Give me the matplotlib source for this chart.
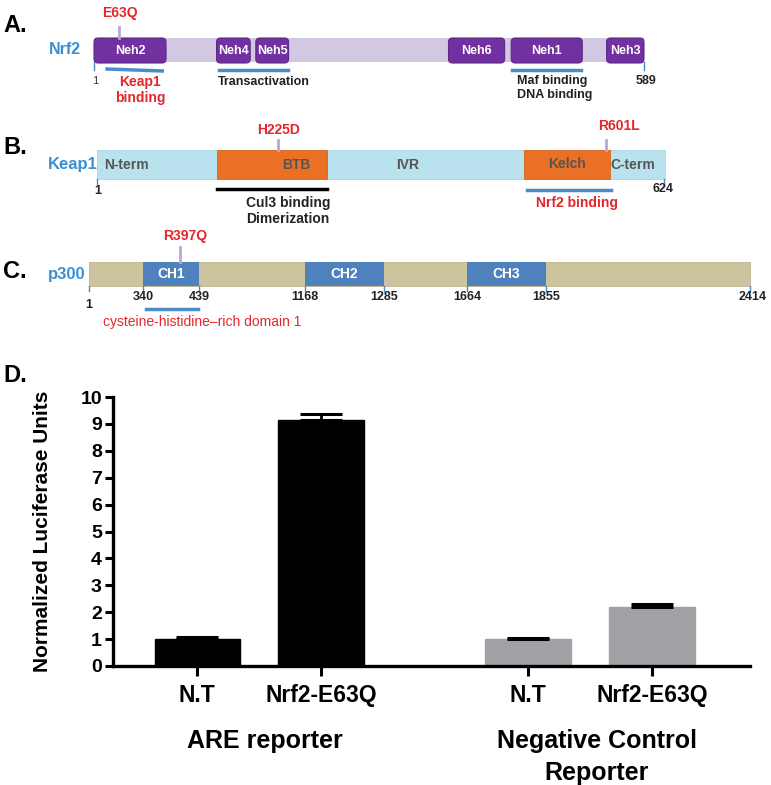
import numpy as np
import matplotlib
matplotlib.use("Agg")
import matplotlib.pyplot as plt
from matplotlib.patches import Rectangle, FancyBboxPatch

plt.rcParams['font.family'] = ['Liberation Sans', 'DejaVu Sans']

# ---------------- data ----------------
# Nrf2 (1-589), domain spans in residues (schematic)
nrf2_len = 589
nrf2_domains = ["Neh2", "Neh4", "Neh5", "Neh6", "Neh1", "Neh3"]
nrf2_starts = [1, 132, 174, 380, 447, 549]
nrf2_ends = [78, 168, 209, 440, 523, 589]
nrf2_mut = ("E63Q", 28)

# Keap1 (1-624)
keap1_len = 624
keap1_domains = ["BTB", "Kelch"]
keap1_starts = [133, 469]
keap1_ends = [253, 564]
keap1_regions = ["N-term", "IVR", "C-term"]
keap1_region_pos = [33, 342, 589]
keap1_muts = [("H225D", 200), ("R601L", 559)]

# p300 (1-2414)
p300_len = 2414
p300_domains = ["CH1", "CH2", "CH3"]
p300_starts = [340, 1168, 1664]
p300_ends = [439, 1285, 1855]
p300_mut = ("R397Q", 397)

# Luciferase assay
conditions = ["N.T", "Nrf2-E63Q", "N.T", "Nrf2-E63Q"]
groups = ["ARE reporter", "Negative Control\nReporter"]
values = [1.0, 9.15, 1.0, 2.2]
errors = [0.08, 0.2, 0.04, 0.1]
bar_colors = ["black", "black", "#a2a2a6", "#a2a2a6"]

# ---------------- figure ----------------
W, H = 771, 785
fig = plt.figure(figsize=(W / 100, H / 100), dpi=100)
ax0 = fig.add_axes([0, 0, 1, 1])
ax0.set_xlim(0, W)
ax0.set_ylim(H, 0)
ax0.axis("off")

RED = "#e4262c"
BLUE_LBL = "#3a8fd4"
LINE_BLUE = "#4a8cc8"
MARK = "#b9a6d4"


def lin(px0, px1, n):
    return lambda r: np.interp(r, [1, n], [px0, px1])


def panel_letter(y, s):
    ax0.text(3, y, s, fontsize=17, fontweight="bold", va="center", ha="left")


# ---- A. Nrf2 ----
panel_letter(26, "A.")
xa = lin(94, 644, nrf2_len)
ax0.add_patch(Rectangle((xa(1), 38), xa(nrf2_len) - xa(1), 24, fc="#d3c8e2", ec="none"))
for name, s, e in zip(nrf2_domains, nrf2_starts, nrf2_ends):
    ax0.add_patch(FancyBboxPatch((xa(s), 38), xa(e) - xa(s), 25,
                                 boxstyle="round,pad=0,rounding_size=4",
                                 fc="#7131a0", ec="#5e2a86", lw=0.8))
    ax0.text((xa(s) + xa(e)) / 2, 50.5, name, color="white", fontsize=9,
             fontweight="bold", ha="center", va="center")
ax0.text(49, 50, "Nrf2", color=BLUE_LBL, fontsize=11.5, fontweight="bold", va="center")
ax0.plot([xa(nrf2_mut[1])] * 2, [27, 38], color=MARK, lw=2)
ax0.text(xa(nrf2_mut[1]) + 1, 13, nrf2_mut[0], color=RED, fontsize=10,
         fontweight="bold", ha="center", va="center")
for r in [1, nrf2_len]:
    ax0.plot([xa(r)] * 2, [62, 70], color=LINE_BLUE, lw=1)
ax0.text(xa(1) + 1, 81, "1", fontsize=8, color="#333333", ha="center", va="center")
ax0.text(xa(nrf2_len) + 2, 81, str(nrf2_len), fontsize=9, fontweight="bold",
         color="#222222", ha="center", va="center")
ax0.plot([xa(15), xa(74)], [69, 71], color=LINE_BLUE, lw=2.5)
ax0.text(140, 75, "Keap1\nbinding", color=RED, fontsize=10, fontweight="bold",
         ha="center", va="top", linespacing=1.15)
ax0.plot([xa(135), xa(208)], [70, 70], color=LINE_BLUE, lw=2.5)
ax0.text(218, 82, "Transactivation", fontsize=9, fontweight="bold", color="#222222",
         va="center")
ax0.plot([xa(448), xa(522)], [70, 70], color=LINE_BLUE, lw=2.5)
ax0.text(517, 75, "Maf binding\nDNA binding", fontsize=9, fontweight="bold",
         color="#222222", va="top", linespacing=1.2)

# ---- B. Keap1 ----
panel_letter(147, "B.")
xb = lin(97, 665, keap1_len)
ax0.add_patch(Rectangle((xb(1), 150), xb(keap1_len) - xb(1), 29, fc="#b9e2ee", ec="#a8d6e4", lw=0.6))
for name, s, e in zip(keap1_domains, keap1_starts, keap1_ends):
    ax0.add_patch(Rectangle((xb(s), 150), xb(e) - xb(s), 29, fc="#e97024", ec="#d8661e", lw=0.6))
ax0.text(xb(keap1_starts[0]) + 79, 165, keap1_domains[0], color="#555555", fontsize=10,
         fontweight="bold", ha="center", va="center")
ax0.text((xb(keap1_starts[1]) + xb(keap1_ends[1])) / 2, 164, keap1_domains[1],
         color="#555555", fontsize=10, fontweight="bold", ha="center", va="center")
for name, r in zip(keap1_regions, keap1_region_pos):
    ax0.text(xb(r), 165, name, color="#555555", fontsize=10, fontweight="bold",
             ha="center", va="center")
ax0.text(48, 165, "Keap1", color=BLUE_LBL, fontsize=12, fontweight="bold", va="center")
for (name, r), ty in zip(keap1_muts, [130, 126]):
    ax0.plot([xb(r)] * 2, [140, 150], color=MARK, lw=2)
    ax0.text(xb(r) + (0 if r < 300 else 13), ty, name, color=RED, fontsize=10,
             fontweight="bold", ha="center", va="center")
ax0.plot([xb(1)] * 2, [179, 184], color=LINE_BLUE, lw=1)
ax0.plot([xb(keap1_len) - 1] * 2, [179, 186], color=LINE_BLUE, lw=1)
ax0.text(xb(1) + 1, 191, "1", fontsize=9, fontweight="bold", color="#222222",
         ha="center", va="center")
ax0.text(xb(keap1_len) - 2, 189, str(keap1_len), fontsize=9, fontweight="bold",
         color="#222222", ha="center", va="center")
ax0.plot([xb(keap1_starts[0]), xb(keap1_ends[0])], [189, 189], color="black", lw=2.5)
ax0.text(288, 196, "Cul3 binding\nDimerization", fontsize=10, fontweight="bold",
         color="#222222", ha="center", va="top", linespacing=1.2)
ax0.plot([xb(473), xb(565)], [190, 190], color=LINE_BLUE, lw=2.5)
ax0.text(577, 203, "Nrf2 binding", color=RED, fontsize=10, fontweight="bold",
         ha="center", va="center")

# ---- C. p300 ----
panel_letter(272, "C.")
p300_ticks = [1] + [v for pair in zip(p300_starts, p300_ends) for v in pair] + [p300_len]
p300_px = [89, 143, 199, 305, 384, 467, 546, 750]
xc = lambda r: np.interp(r, p300_ticks, p300_px)
ax0.add_patch(Rectangle((xc(1), 262), xc(p300_len) - xc(1), 24, fc="#cbc49f", ec="#bdb58e", lw=0.6))
for name, s, e in zip(p300_domains, p300_starts, p300_ends):
    ax0.add_patch(Rectangle((xc(s), 262), xc(e) - xc(s), 24, fc="#4f81bd", ec="none"))
    ax0.text((xc(s) + xc(e)) / 2, 274, name, color="white", fontsize=10,
             fontweight="bold", ha="center", va="center")
for r in p300_ticks:
    ax0.plot([xc(r)] * 2, [286, 291], color=LINE_BLUE, lw=1)
    ax0.text(xc(r) + (3 if r == p300_len else 0), 305 if r == 1 else 297, str(r),
             fontsize=9, fontweight="bold", color="#222222", ha="center", va="center")
ax0.text(48, 274, "p300", color=BLUE_LBL, fontsize=12, fontweight="bold", va="center")
ax0.plot([180, 180], [247, 262], color=MARK, lw=2)
ax0.text(185, 236, p300_mut[0], color=RED, fontsize=10, fontweight="bold",
         ha="center", va="center")
ax0.plot([xc(345), xc(437)], [309, 309], color=LINE_BLUE, lw=2.5)
ax0.text(202, 322, "cysteine-histidine\u2013rich domain 1", color=RED, fontsize=10,
         ha="center", va="center")

# ---- D. bar chart ----
panel_letter(375, "D.")
ax = fig.add_axes([113 / W, 1 - 666 / H, (750 - 113) / W, (666 - 397) / H])
pos = np.array([0, 1, 2.67, 3.67])
ax.bar(pos, values, width=0.69, color=bar_colors, edgecolor=bar_colors, zorder=2)
ax.errorbar(pos, values, yerr=[np.zeros(4), errors], fmt="none", ecolor="black",
            elinewidth=2, capsize=15, capthick=2.2, zorder=3)
ax.set_xlim(-0.68, 4.46)
ax.set_ylim(0, 10)
ax.set_yticks(range(0, 11))
ax.set_xticks(pos)
ax.set_xticklabels(conditions)
for s in ["top", "right"]:
    ax.spines[s].set_visible(False)
for s in ["left", "bottom"]:
    ax.spines[s].set_linewidth(2.4)
ax.tick_params(axis="y", length=6, width=2.2, labelsize=14, pad=2)
ax.tick_params(axis="x", length=7, width=2.2, labelsize=16.5, pad=6)
for lbl in ax.get_xticklabels() + ax.get_yticklabels():
    lbl.set_fontweight("bold")
ax.set_ylabel("Normalized Luciferase Units", fontsize=15, fontweight="bold", labelpad=20)
ax.patch.set_alpha(0)

ax0.text(265, 741, groups[0], fontsize=18, fontweight="bold", ha="center", va="center")
ax0.text(597, 757, groups[1], fontsize=18, fontweight="bold", ha="center", va="center",
         linespacing=1.4)

fig.savefig("out.png", dpi=100)
